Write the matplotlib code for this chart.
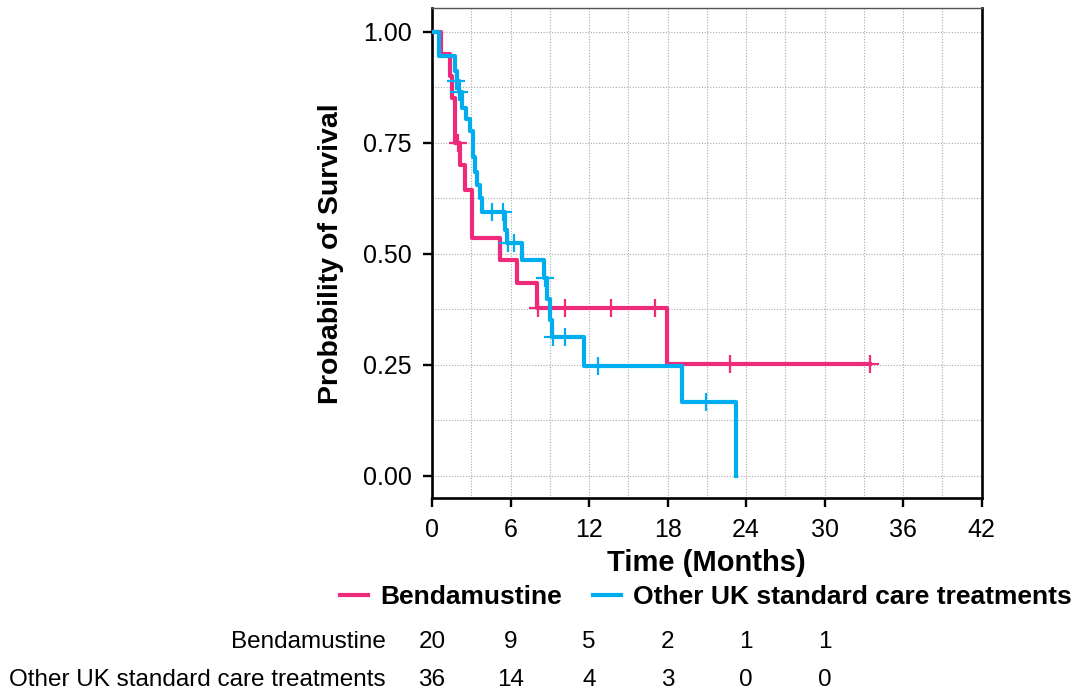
import matplotlib
matplotlib.use("Agg")
import matplotlib.pyplot as plt
from matplotlib.transforms import blended_transform_factory
from matplotlib.lines import Line2D
from matplotlib.ticker import MultipleLocator

plt.rcParams['font.family'] = ['Liberation Sans', 'DejaVu Sans']

# ---- data ----
groups = ["Bendamustine", "Other UK standard care treatments"]
colors = ["#EE2A7B", "#00AEEF"]

benda_t = [0, 0.70, 1.39, 1.52, 1.77, 2.16, 2.49, 3.07, 5.17, 6.52, 8.02, 17.97, 33.5]
benda_s = [1.0, 0.95, 0.90, 0.85, 0.75, 0.70, 0.643, 0.536, 0.485, 0.434, 0.378, 0.252, 0.252]
benda_cens_t = [1.98, 8.1, 10.19, 13.66, 17.02, 22.8, 33.5]
benda_cens_s = [0.75, 0.378, 0.378, 0.378, 0.378, 0.252, 0.252]

other_t = [0, 0.57, 1.72, 1.90, 2.05, 2.31, 2.61, 2.92, 3.10, 3.25, 3.43, 3.63, 3.84,
           5.55, 5.72, 6.90, 8.53, 8.81, 9.04, 9.20, 11.59, 19.07, 23.22]
other_s = [1.0, 0.946, 0.911, 0.890, 0.864, 0.828, 0.804, 0.776, 0.719, 0.685, 0.654, 0.625, 0.595,
           0.554, 0.525, 0.485, 0.445, 0.399, 0.351, 0.312, 0.248, 0.166, 0.0]
other_cens_t = [1.84, 2.06, 4.58, 5.42, 5.8, 6.24, 8.6, 9.25, 10.14, 12.69, 20.9]
other_cens_s = [0.890, 0.864, 0.595, 0.595, 0.525, 0.525, 0.445, 0.312, 0.312, 0.248, 0.166]

risk_times = [0, 6, 12, 18, 24, 30]
risk_benda = [20, 9, 5, 2, 1, 1]
risk_other = [36, 14, 4, 3, 0, 0]

x_ticks = [0, 6, 12, 18, 24, 30, 36, 42]
y_ticks = [0.0, 0.25, 0.5, 0.75, 1.0]
y_ticklabels = ["0.00", "0.25", "0.50", "0.75", "1.00"]

# ---- figure ----
W, H = 1074, 689
fig = plt.figure(figsize=(W / 100, H / 100), dpi=100)
ax = fig.add_axes([432 / W, 1 - 498.3 / H, (981.7 - 432) / W, (498.3 - 8.3) / H])

ax.set_xlim(0, 42)
ax.set_ylim(-0.051, 1.053)

series = [
    (benda_t, benda_s, benda_cens_t, benda_cens_s),
    (other_t, other_s, other_cens_t, other_cens_s),
]
for (t, s, ct, cs), c in zip(series, colors):
    ax.step(t, s, where='post', color=c, lw=3.0, zorder=3)
    ax.plot(ct, cs, ls='none', marker='+', ms=12.5, mew=1.6, color=c, zorder=4)

ax.set_xticks(x_ticks)
ax.set_yticks(y_ticks)
ax.set_yticklabels(y_ticklabels)
ax.xaxis.set_minor_locator(MultipleLocator(3))
ax.yaxis.set_minor_locator(MultipleLocator(0.125))
ax.tick_params(which='major', direction='out', length=6.5, width=1.7, labelsize=18, pad=8, colors='black')
ax.tick_params(which='minor', length=0)
ax.grid(True, which='both', ls=(0, (1, 1.5)), color='#aaaaaa', lw=0.8, zorder=0)

for side in ['left', 'bottom', 'right']:
    ax.spines[side].set_linewidth(1.9)
    ax.spines[side].set_color('black')
ax.spines['top'].set_linewidth(1.0)
ax.spines['top'].set_color('#555555')

ax.set_xlabel("Time (Months)", fontsize=21, fontweight='bold')
ax.xaxis.label.set_verticalalignment('center')
ax.xaxis.set_label_coords(0.5, (498.3 - 563) / 490)
ax.set_ylabel("Probability of Survival", fontsize=20.5, fontweight='bold')
ax.yaxis.label.set_verticalalignment('center')
ax.yaxis.set_label_coords((331 - 432) / 549.7, 0.5)

# legend
handles = [Line2D([], [], color=c, lw=3.0) for c in colors]
fig.legend(handles, groups, loc='center', bbox_to_anchor=(706 / W, 1 - 597 / H),
           ncol=2, frameon=False, handlelength=1.05, handletextpad=0.45, columnspacing=1.2,
           prop={'weight': 'bold', 'size': 19})

# risk table
tr = blended_transform_factory(ax.transData, fig.transFigure)
rows = [(groups[0], risk_benda, 1 - 641.5 / H), (groups[1], risk_other, 1 - 679.5 / H)]
for label, vals, yy in rows:
    fig.text(386 / W, yy, label, ha='right', va='center', fontsize=17.5)
    for tt, v in zip(risk_times, vals):
        ax.text(tt, yy, str(v), transform=tr, ha='center', va='center', fontsize=17.5, clip_on=False)

fig.savefig("out.png", dpi=100)
